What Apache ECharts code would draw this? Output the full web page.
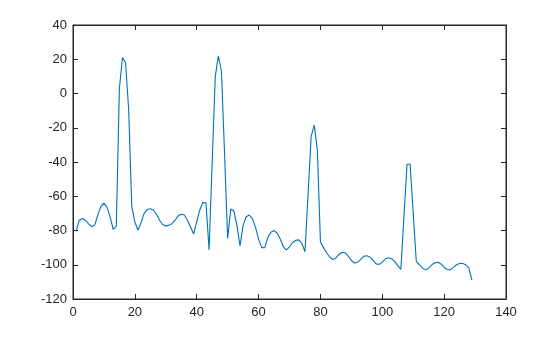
<!DOCTYPE html>
<html>
<head>
<meta charset="utf-8">
<script src="https://cdn.jsdelivr.net/npm/echarts@6/dist/echarts.min.js"></script>
<style>html,body{margin:0;padding:0;background:#fff}#c{width:560px;height:337px}</style>
</head>
<body>
<div id="c"></div>
<script>
const xValues = [];
for (let i = 1; i <= 129; i++) xValues.push(i);
const yValues = [
  -80.5, -74, -73, -74, -76, -77.8, -77, -71, -66, -64,
  -66.5, -72, -79.3, -77.4, 3, 21, 18, -9.5, -66, -75,
  -79.7, -75.5, -70, -67.7, -67.3, -68, -70.5, -74, -76.5, -77.3,
  -77, -76, -74, -71.5, -70.5, -71, -74, -78, -82, -75,
  -68, -63.5, -64, -91.4, -40, 10, 22, 13, -35, -84.6,
  -67.5, -68.5, -77, -89, -77, -72, -71, -73, -78, -85,
  -90, -90, -84, -81, -80, -81.5, -85, -89.5, -91.3, -89.5,
  -87, -85.7, -85.5, -87.5, -92.4, -59, -25, -18.5, -33, -86.5,
  -90, -93, -95.5, -97, -96, -94, -92.7, -93, -95, -97.5,
  -99, -98.5, -97, -95, -94.7, -95.5, -97.5, -99.5, -99.8, -98.5,
  -96.5, -95.9, -96.5, -98, -100.5, -102.7, -72, -41.3, -41.3, -70,
  -98.2, -100, -102, -103, -102, -100, -98.8, -98.6, -99.5, -101.5,
  -102.8, -103, -101.5, -100, -99.3, -99.3, -100, -102, -109
];
const xTicks = [0, 20, 40, 60, 80, 100, 120, 140];
const yTicks = [-120, -100, -80, -60, -40, -20, 0, 20, 40];

const data = xValues.map((x, i) => [x, yValues[i]]);
const axisColor = '#262626';
const font = '"Liberation Sans", Arial, Helvetica, sans-serif';

const chart = echarts.init(document.getElementById('c'), null, {renderer: 'canvas'});
chart.setOption({
  animation: false,
  backgroundColor: '#ffffff',
  grid: {left: 73, right: 54, top: 25, bottom: 38, show: true, borderColor: axisColor, borderWidth: 1, backgroundColor: 'transparent'},
  xAxis: [{
    type: 'value', min: xTicks[0], max: xTicks[xTicks.length - 1], interval: 20,
    axisLine: {show: true, onZero: false, lineStyle: {color: axisColor, width: 1}},
    axisTick: {show: true, inside: true, length: 5, lineStyle: {color: axisColor}},
    axisLabel: {color: axisColor, fontSize: 13, fontFamily: font, margin: 7},
    splitLine: {show: false}
  }, {
    type: 'value', position: 'top', min: xTicks[0], max: xTicks[xTicks.length - 1], interval: 20,
    axisLine: {show: true, onZero: false, lineStyle: {color: axisColor, width: 1}},
    axisTick: {show: true, inside: true, length: 5, lineStyle: {color: axisColor}},
    axisLabel: {show: false}, splitLine: {show: false}
  }],
  yAxis: [{
    type: 'value', min: yTicks[0], max: yTicks[yTicks.length - 1], interval: 20,
    axisLine: {show: true, onZero: false, lineStyle: {color: axisColor, width: 1}},
    axisTick: {show: true, inside: true, length: 5, lineStyle: {color: axisColor}},
    axisLabel: {color: axisColor, fontSize: 13, fontFamily: font, margin: 6},
    splitLine: {show: false}
  }, {
    type: 'value', position: 'right', min: yTicks[0], max: yTicks[yTicks.length - 1], interval: 20,
    axisLine: {show: true, onZero: false, lineStyle: {color: axisColor, width: 1}},
    axisTick: {show: true, inside: true, length: 5, lineStyle: {color: axisColor}},
    axisLabel: {show: false}, splitLine: {show: false}
  }],
  series: [{
    type: 'line', data: data, xAxisIndex: 0, yAxisIndex: 0,
    showSymbol: false, symbol: 'none',
    lineStyle: {color: '#0072BD', width: 1.1},
    z: 3
  }]
});
</script>
</body>
</html>
